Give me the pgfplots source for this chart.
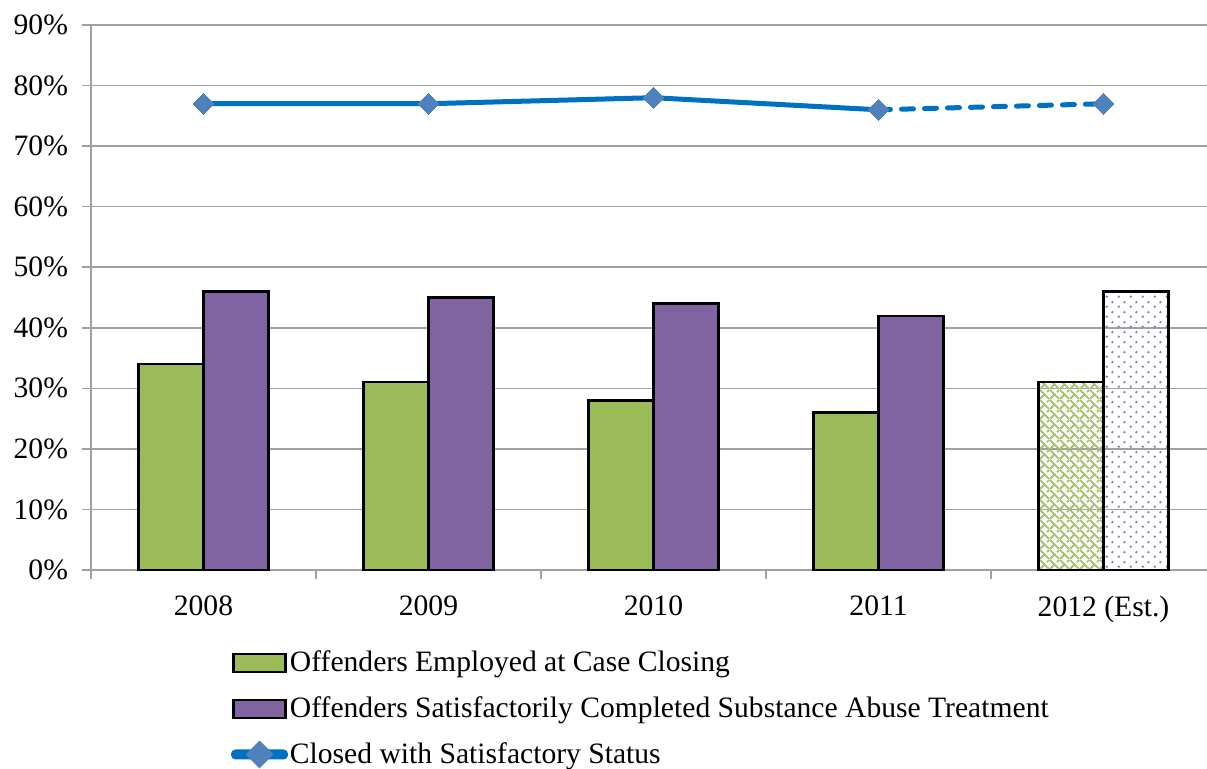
\documentclass[border=0pt]{standalone}
\usepackage{pgfplots}
\pgfplotsset{compat=1.18}
\usepackage{fontspec}
\setmainfont{Liberation Serif}
\usetikzlibrary{patterns,patterns.meta}
\definecolor{cgreen}{HTML}{9BBB59}
\definecolor{cpurple}{HTML}{8064A2}
\definecolor{cline}{HTML}{0070C0}
\definecolor{cmark}{HTML}{4F81BD}
\definecolor{cgrid}{HTML}{A0A0A0}
\tikzdeclarepattern{
  name=mydots, type=uncolored,
  bounding box={(0,0) and (6pt,5pt)},
  tile size={(6pt,5pt)},
  code={
    \fill (1.5pt,1.25pt) circle (0.7pt);
    \fill (4.5pt,3.75pt) circle (0.7pt);
  }
}
\tikzdeclarepattern{
  name=weave, type=uncolored,
  bounding box={(0,0) and (5pt,5pt)},
  tile size={(5pt,5pt)},
  code={
    \draw[line width=1pt] (0pt,0pt) -- (2.5pt,2.5pt) -- (5pt,0pt);
    \draw[line width=1pt] (2.5pt,2.5pt) -- (0pt,5pt);
    \draw[line width=1pt] (3.75pt,3.75pt) -- (5pt,5pt);
  }
}
\pgfplotsset{
  barleg/.style={legend image code/.code={\draw[##1, line width=1.1pt] (0pt,-4.5pt) rectangle (26pt,4.5pt);}},
  lineleg/.style={legend image code/.code={
    \fill[cline, rounded corners=1.2pt] (0pt,-1.25pt) rectangle (26pt,1.25pt);
    \fill[cmark] (13pt,5.2pt) -- (18.2pt,0pt) -- (13pt,-5.2pt) -- (7.8pt,0pt) -- cycle;}},
}
\begin{document}
\begin{tikzpicture}
\begin{axis}[
  name=ax,
  scale only axis,
  width=558pt, height=272.5pt,
  xmin=-0.5, xmax=4.46,
  ymin=0, ymax=90,
  axis x line*=bottom, axis y line*=left,
  axis line style={cgrid, line width=0.8pt, -},
  xtick={0,1,2,3,4},
  xticklabels={2008,2009,2010,2011,2012 (Est.)},
  minor xtick={-0.5,0.5,1.5,2.5,3.5},
  major x tick style={draw=none},
  minor tick length=4.5pt,
  minor x tick style={cgrid, line width=0.8pt},
  tick align=outside,
  ytick={0,10,...,90},
  yticklabel={\pgfmathprintnumber{\tick}\%},
  /pgf/number format/assume math mode=true,
  major tick length=4.5pt,
  y tick style={cgrid, line width=0.8pt},
  ymajorgrids,
  major grid style={cgrid, line width=0.8pt},
  tick label style={font=\fontsize{14.8}{17}\selectfont},
  xticklabel style={yshift=-5pt},
  yticklabel style={xshift=-3.5pt},
  clip=false,
  legend style={at={(rel axis cs:0.1255,-0.141)}, anchor=north west, draw=none,
    font=\fontsize{14.8}{17}\selectfont, row sep=7pt,
    inner sep=0pt, outer sep=0pt, nodes={inner xsep=0.95pt}},
  legend cell align=left,
]
\addplot[ybar, bar width=32.5pt, bar shift=-16.25pt, fill=cgreen, draw=black, line width=1.1pt, barleg]
  coordinates {(0,34) (1,31) (2,28) (3,26)};
\addlegendentry{Offenders Employed at Case Closing}
\addplot[ybar, bar width=32.5pt, bar shift=16.25pt, fill=cpurple, draw=black, line width=1.1pt, barleg]
  coordinates {(0,46) (1,45) (2,44) (3,42)};
\addlegendentry{Offenders Satisfactorily Completed Substance Abuse Treatment}
\addplot[cline, solid, line width=2.5pt, sharp plot, mark=square*, mark size=3.7pt,
  mark options={fill=cmark, draw=cmark, line width=0pt, rotate=45, solid}, lineleg]
  coordinates {(0,77) (1,77) (2,78) (3,76)};
\addlegendentry{Closed with Satisfactory Status}
\addplot[ybar, forget plot, bar width=32.5pt, bar shift=-16.25pt, draw=none, pattern=weave, pattern color=cgreen!90]
  coordinates {(4,31)};
\addplot[ybar, forget plot, bar width=32.5pt, bar shift=16.25pt, draw=none, pattern=mydots, pattern color=cpurple!85]
  coordinates {(4,46)};
\addplot[ybar, forget plot, bar width=32.5pt, bar shift=-16.25pt, fill=none, draw=black, line width=1.1pt]
  coordinates {(4,31)};
\addplot[ybar, forget plot, bar width=32.5pt, bar shift=16.25pt, fill=none, draw=black, line width=1.1pt]
  coordinates {(4,46)};
\addplot[cline, line width=2.5pt, sharp plot, forget plot, line cap=round, dash pattern=on 6pt off 5.5pt]
  coordinates {(3,76) (4,77)};
\addplot[only marks, forget plot, mark=square*, mark size=3.7pt,
  mark options={fill=cmark, draw=cmark, line width=0pt, rotate=45}]
  coordinates {(3,76) (4,77)};
\coordinate (o) at (rel axis cs:0,0);
\end{axis}
\pgfresetboundingbox
\useasboundingbox (o) ++(-45.5pt,-99pt) rectangle ++(603.5pt,384pt);
\end{tikzpicture}
\end{document}
